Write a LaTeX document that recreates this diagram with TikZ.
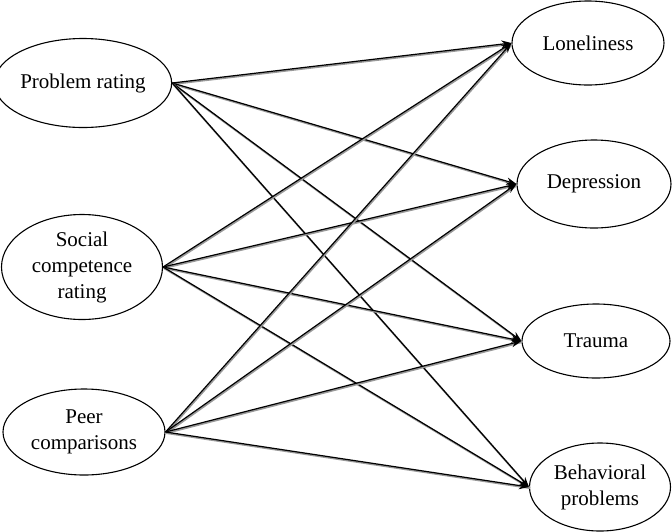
\documentclass[tikz,border=0pt]{standalone}
\usepackage{fontspec}
\setmainfont{Liberation Serif}
\usetikzlibrary{shapes.geometric,arrows.meta}
\tikzset{
  var/.style={draw, ellipse, line width=1.1pt, inner sep=0pt, align=center,
    font=\fontsize{21}{26}\selectfont},
  link/.style={line width=1.2pt, -{Stealth[length=10pt,width=7.5pt]},
    preaction={draw=black!40, line width=1.8pt, -, transform canvas={shift={(0.8pt,-1.1pt)}}}}
}
\begin{document}
\begin{tikzpicture}[x=1pt,y=-1pt]
\useasboundingbox (0,0) rectangle (672,531);
\node[var, minimum width=163pt, minimum height=89pt] (pr) at (83,83) {Problem rating};
\node[var, minimum width=161pt, minimum height=105pt] (sc) at (82,267) {Social\\competence\\rating};
\node[var, minimum width=162pt, minimum height=86pt] (pc) at (84,432) {Peer\\comparisons};
\node[var, minimum width=152pt, minimum height=84pt] (lo) at (588,43) {Loneliness};
\node[var, minimum width=154pt, minimum height=88pt] (de) at (594,184) {Depression};
\node[var, minimum width=148pt, minimum height=74pt] (tr) at (596,341) {Trauma};
\node[var, minimum width=141pt, minimum height=88pt] (bp) at (600,487) {Behavioral\\problems};
\foreach \s in {pr,sc,pc}{
  \foreach \t in {lo,de,tr,bp}{
    \draw[link] (\s.east) -- (\t.west);
  }
}
\end{tikzpicture}
\end{document}
